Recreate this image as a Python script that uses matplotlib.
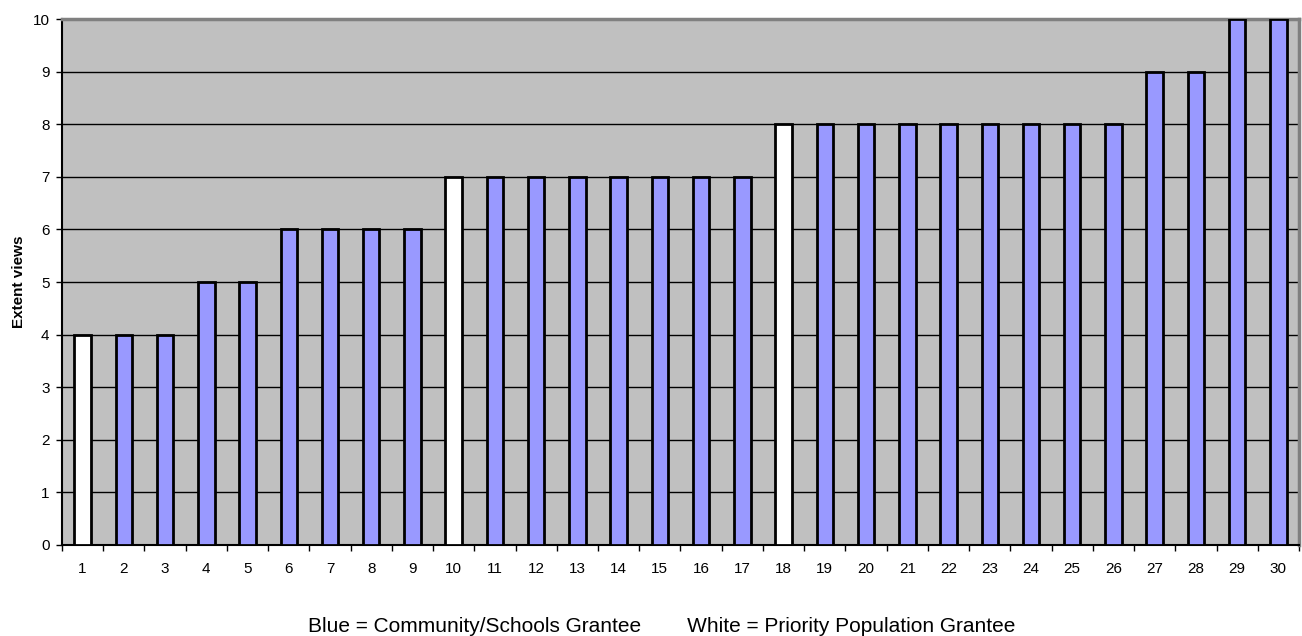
import matplotlib.pyplot as plt
import numpy as np

plt.rcParams['font.family'] = ['Liberation Sans', 'DejaVu Sans']

# data
grantees = list(range(1, 31))
extent = [4, 4, 4, 5, 5, 6, 6, 6, 6, 7, 7, 7, 7, 7, 7, 7, 7, 8,
          8, 8, 8, 8, 8, 8, 8, 8, 9, 9, 10, 10]
priority = [1, 10, 18]  # white bars

colors = ['white' if g in priority else '#9999FF' for g in grantees]

fig = plt.figure(figsize=(13.02, 6.36), dpi=100)
ax = fig.add_axes([0.0476, 0.1431, 0.9501, 0.8269])
ax.set_facecolor('#C0C0C0')

x = np.arange(len(grantees))
ax.bar(x, extent, width=0.4, color=colors, edgecolor='black', linewidth=2, zorder=3)

ax.set_xlim(-0.5, len(grantees) - 0.5)
ax.set_ylim(0, 10)
ax.set_yticks(range(0, 11))
ax.yaxis.grid(True, color='black', linewidth=1, zorder=1)
ax.set_axisbelow(True)

# ticks at category boundaries, labels at centres
ax.set_xticks(np.arange(-0.5, len(grantees) + 0.5, 1))
ax.set_xticklabels([])
ax.set_xticks(x, minor=True)
ax.set_xticklabels([str(g) for g in grantees], minor=True, fontsize=11)
ax.tick_params(axis='x', which='minor', length=0, pad=12)
ax.tick_params(axis='x', which='major', length=4, width=1)
ax.tick_params(axis='y', length=4, width=1, labelsize=11, pad=5)

for s in ['top', 'right']:
    ax.spines[s].set_color('#808080')
    ax.spines[s].set_linewidth(2.5)
ax.spines['left'].set_linewidth(1.5)
ax.spines['bottom'].set_linewidth(1.5)

ax.set_ylabel('Extent views', fontsize=11, fontweight='bold', labelpad=5)

fig.text(0.508, 0.006, 'Blue = Community/Schools Grantee        White = Priority Population Grantee',
         ha='center', va='baseline', fontsize=15)

fig.savefig('out.png', dpi=100)
